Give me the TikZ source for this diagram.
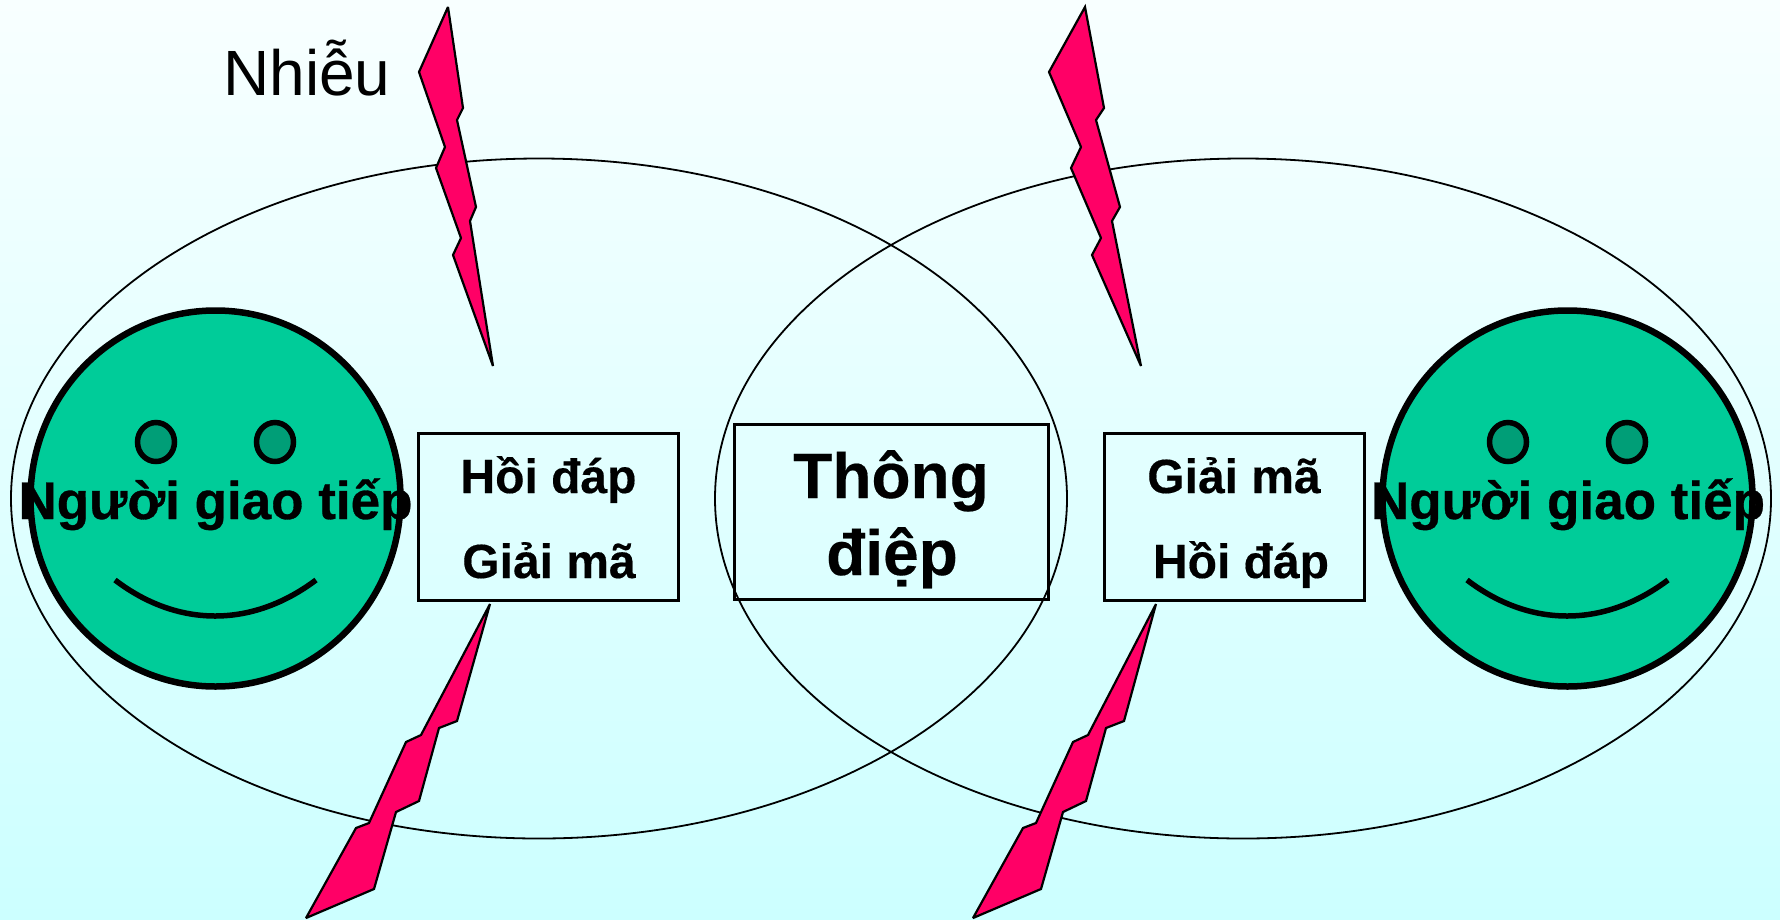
\documentclass[tikz,border=0pt]{standalone}
\usepackage{fontspec}
\setmainfont{Liberation Sans}
\usetikzlibrary{shapes.geometric}
\definecolor{facegreen}{HTML}{00CC99}
\definecolor{eyegreen}{HTML}{009E77}
\definecolor{boltred}{HTML}{FF0066}
\definecolor{bgtop}{HTML}{F8FFFF}
\definecolor{bgbottom}{HTML}{CCFFFF}
\tikzset{
  halo/.style={ellipse,draw=black,line width=1.8pt,minimum width=1056pt,minimum height=680pt,inner sep=0pt,outer sep=0pt},
  facebody/.style={ellipse,draw=black,fill=facegreen,line width=6.5pt,minimum width=370pt,minimum height=376pt,inner sep=0pt,outer sep=0pt},
  eyeball/.style={ellipse,draw=black,fill=eyegreen,line width=5.5pt,minimum width=37pt,minimum height=39pt,inner sep=0pt,outer sep=0pt},
  smile/.style={line width=5.5pt},
  bolt/.style={draw=black,fill=boltred,line width=2.2pt,line join=miter,miter limit=3},
  msgbox/.style={rectangle,draw=black,line width=3pt,inner sep=0pt,outer sep=0pt},
  facelabel/.style={anchor=base,inner sep=0pt,font=\fontsize{53}{53}\selectfont\bfseries\addfontfeature{FakeBold=0.6}},
  boxlabel/.style={anchor=base,inner sep=0pt,font=\fontsize{48}{48}\selectfont\bfseries\addfontfeature{FakeBold=0.3}},
  msglabel/.style={anchor=base,inner sep=0pt,font=\fontsize{64}{64}\selectfont\bfseries\addfontfeature{FakeBold=0.3}},
  noise/.style={anchor=base,inner sep=0pt,font=\fontsize{64}{64}\selectfont}
}
\begin{document}
\begin{tikzpicture}[x=1pt,y=-1pt]
\useasboundingbox (0,0) rectangle (1780,919);
\shade[top color=bgtop,bottom color=bgbottom] (0,0) rectangle (1780,919);
% halos
\node[halo] (leftHalo) at (539,498.5) {};
\node[halo] (rightHalo) at (1243,498.5) {};
% faces
\node[facebody] (leftFace) at (215.5,498.5) {};
\node[facebody] (rightFace) at (1567.5,498.5) {};
\node[eyeball] (leftEyeA) at (156,442) {};
\node[eyeball] (leftEyeB) at (275,442) {};
\node[eyeball] (rightEyeA) at (1508,442) {};
\node[eyeball] (rightEyeB) at (1627,442) {};
\draw[smile] (115,580) .. controls (178,628) and (252,628) .. (316,580);
\draw[smile] (1467,580) .. controls (1530,628) and (1604,628) .. (1668,580);
% bolts
\draw[bolt] (448,7) -- (463,108) -- (457,120) -- (476,207) -- (470,221) -- (493,366) -- (453,255) -- (461,238) -- (436,168) -- (445,147) -- (419,72) -- cycle;
\draw[bolt] (1085,7) -- (1104,108) -- (1096,120) -- (1120,207) -- (1112,221) -- (1141,366) -- (1092,255) -- (1101,238) -- (1071,168) -- (1081,147) -- (1049,72) -- cycle;
\draw[bolt] (490,604) -- (457,721) -- (439,728) -- (419,801) -- (396,812) -- (374,889) -- (306,918) -- (356,828) -- (369,823) -- (406,742) -- (421,735) -- cycle;
\draw[bolt] (1156,604) -- (1124,721) -- (1106,728) -- (1086,801) -- (1063,812) -- (1041,889) -- (973,918) -- (1023,828) -- (1036,823) -- (1073,742) -- (1088,735) -- cycle;
% boxes
\node[msgbox,minimum width=260pt,minimum height=167pt] (leftBox) at (548.5,517) {};
\node[msgbox,minimum width=314pt,minimum height=175pt] (msgBox) at (891,512) {};
\node[msgbox,minimum width=260pt,minimum height=167pt] (rightBox) at (1234,517) {};
% labels
\node[noise] (nhieu) at (307,95) {Nhiễu};
\node[facelabel] (leftName) at (215.5,519) {Người giao tiếp};
\node[facelabel] (rightName) at (1568,519) {Người giao tiếp};
\node[boxlabel] (lbA) at (548.5,493) {Hồi đáp};
\node[boxlabel] (lbB) at (549,578) {Giải mã};
\node[msglabel] (mA) at (891,498) {Thông};
\node[msglabel] (mB) at (892,575) {điệp};
\node[boxlabel] (rbA) at (1234,493) {Giải mã};
\node[boxlabel] (rbB) at (1241,578) {Hồi đáp};
\end{tikzpicture}
\end{document}
